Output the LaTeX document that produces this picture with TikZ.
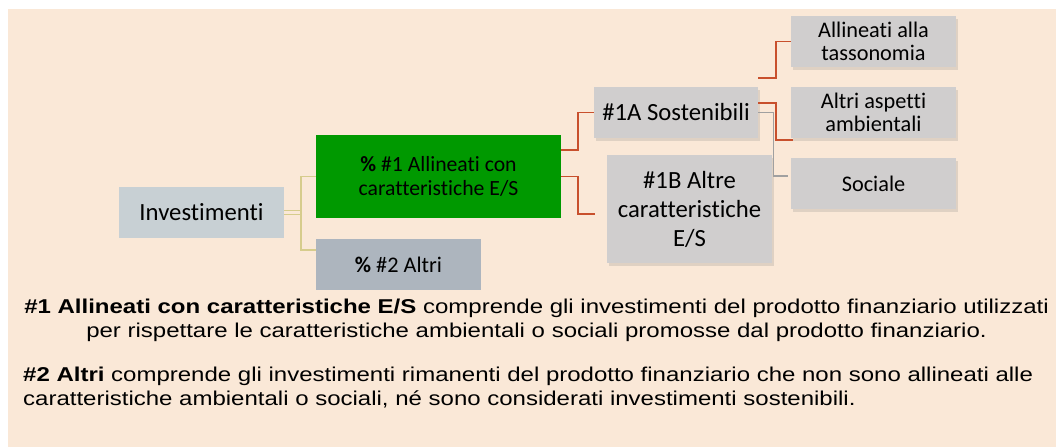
\documentclass[tikz,border=0pt]{standalone}
\usepackage{fontspec}
\setmainfont[Ligatures={NoCommon,NoRare,NoContextual}]{Carlito}
\newfontfamily\captfont[FakeStretch=1.2]{Liberation Sans}
\usetikzlibrary{calc,shadows}
\definecolor{bgc}{RGB}{250,232,215}
\definecolor{invc}{RGB}{200,208,212}
\definecolor{grnc}{RGB}{0,153,0}
\definecolor{altc}{RGB}{173,181,190}
\definecolor{boxc}{RGB}{208,206,206}
\definecolor{redl}{RGB}{200,80,45}
\definecolor{olvl}{RGB}{214,204,140}
\definecolor{gryl}{RGB}{160,160,160}
\tikzset{
  flat/.style={inner sep=0pt, align=center, text=black},
  sbox/.style={flat, fill=boxc, drop shadow={shadow xshift=2pt, shadow yshift=-3pt, opacity=0.22}},
  redline/.style={draw=redl, line width=1.9pt},
  olvline/.style={draw=olvl, line width=1.6pt},
  gryline/.style={draw=gryl, line width=1.2pt},
  bigtxt/.style={font=\fontsize{24.7}{29}\selectfont},
  smltxt/.style={font=\fontsize{22.3}{23.5}\selectfont},
  captline/.style={inner sep=0pt, font=\captfont\fontsize{20}{24}\selectfont}
}
\begin{document}
\begin{tikzpicture}[x=1pt,y=-1pt]
\useasboundingbox (0,0) rectangle (1056,447);
\fill[bgc] (8,9) rectangle (1056,447);
% nodes
\node[flat, fill=invc, minimum width=165, minimum height=51, bigtxt] (inv) at (201.5,212.5) {Investimenti};
\node[flat, fill=grnc, minimum width=245, minimum height=83, font=\fontsize{21.7}{24}\selectfont] (grn) at (438.5,176.5) {\textbf{\%} \#1 Allineati con\\caratteristiche E/S};
\node[flat, fill=altc, minimum width=165, minimum height=51, smltxt] (alt) at (398.5,264.5) {\textbf{\%} \#2 Altri};
\node[sbox, minimum width=164, minimum height=51, bigtxt] (s1a) at (676,112.5) {\#1A Sostenibili};
\node[sbox, minimum width=165, minimum height=108, bigtxt] (s1b) at (689.5,209) {\#1B Altre\\caratteristiche\\E/S};
\node[sbox, minimum width=165, minimum height=51, smltxt] (tax) at (873.5,41.5) {Allineati alla\\tassonomia};
\node[sbox, minimum width=165, minimum height=51, smltxt] (amb) at (873.5,112.5) {Altri aspetti\\ambientali};
\node[sbox, minimum width=165, minimum height=51, smltxt] (soc) at (873.5,183.5) {Sociale};
% olive connectors
\coordinate (oj) at ($(inv.east)+(17,0)$);
\draw[draw=olvl, line width=0.9pt] ($(inv.east)+(0,-1.6)$) -- ($(oj)+(0,-1.6)$);
\draw[draw=olvl, line width=0.9pt] ($(inv.east)+(0,1.6)$) -- ($(oj)+(0,1.6)$);
\draw[olvline] (grn.west) -| (oj) |- ($(alt.north west)+(0,11)$);
% red connectors
\draw[redline] ($(grn.north east)+(0,15)$) -- ++(17,0) |- (s1a.west);
\draw[redline] (grn.east) -- ++(17,0) |- ($(s1b.west)+(-12,5)$);
\draw[redline] ($(s1a.north east)+(0,-9)$) -- ++(18,0) |- (tax.west);
\draw[redline] ($(s1a.east)+(0,-9.5)$) -- ++(18,0) |- ($(amb.south west)+(2,2)$);
% grey connector
\draw[gryline] (s1a.east) -- ++(15,0) |- ($(soc.west)+(-3,-7.5)$);
% caption
\node[captline, anchor=base] (c1) at (536.5,313) {\textbf{\#1 Allineati con caratteristiche E/S} comprende gli investimenti del prodotto finanziario utilizzati};
\node[captline, anchor=base] (c2) at (536.5,337) {per rispettare le caratteristiche ambientali o sociali promosse dal prodotto finanziario.};
\node[captline, anchor=base west] (c3) at (23,381) {\textbf{\#2 Altri} comprende gli investimenti rimanenti del prodotto finanziario che non sono allineati alle};
\node[captline, anchor=base west] (c4) at (23,405) {caratteristiche ambientali o sociali, né sono considerati investimenti sostenibili.};
\end{tikzpicture}
\end{document}
